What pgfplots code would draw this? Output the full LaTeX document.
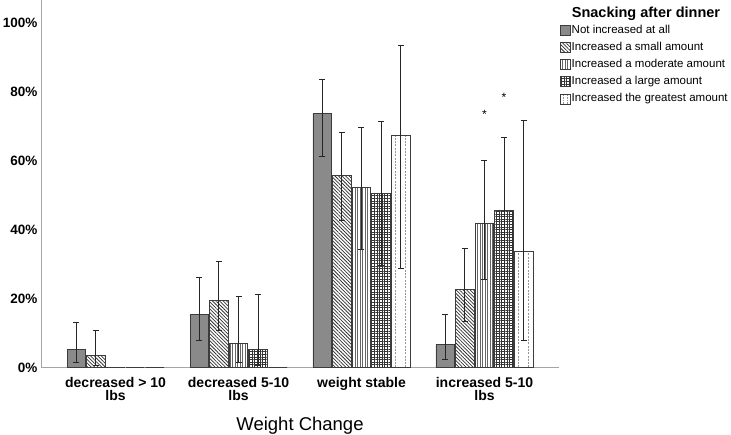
\documentclass[border=0pt]{standalone}
\usepackage{fontspec}
\setmainfont{Liberation Sans}
\usepackage{pgfplots}
\pgfplotsset{compat=1.18}
\usetikzlibrary{patterns.meta}

\definecolor{barfill}{RGB}{138,138,138}
\definecolor{barline}{RGB}{60,60,60}
\definecolor{axgray}{RGB}{165,165,165}
\definecolor{dotgray}{RGB}{150,150,150}

\pgfplotsset{
    errs/.style={
        error bars/y dir=both,
        error bars/y explicit,
        error bars/error bar style={line width=0.9pt, black!85},
        error bars/error mark options={rotate=90, line width=0.9pt, black!85, mark size=3pt},
    },
    dotline/.style={forget plot, ycomb, mark=none, draw=dotgray, line width=0.8pt,
        dash pattern=on 2pt off 1.3pt},
}

\begin{document}
\begin{tikzpicture}
\begin{axis}[
    name=ax,
    at={(0,0)}, anchor=south west,
    scale only axis,
    width=518pt, height=367.5pt,
    xmin=-0.606, xmax=3.606,
    ymin=0, ymax=106.5,
    axis lines=left,
    axis line style={-, draw=axgray, line width=0.9pt},
    major tick length=0pt,
    ybar=1pt, bar width=18.6pt,
    xtick={0,1,2,3},
    xticklabels={{decreased > 10\\lbs},{decreased 5-10\\lbs},{weight stable},{increased 5-10\\lbs}},
    xticklabel style={align=center, font=\bfseries\fontsize{14}{13.5}\selectfont, yshift=-6pt},
    ytick={0,20,40,60,80,100},
    yticklabels={0\%,20\%,40\%,60\%,80\%,100\%},
    yticklabel style={font=\bfseries\fontsize{13.5}{14}\selectfont, xshift=0pt},
    xlabel={Weight Change},
    xlabel style={font=\fontsize{18.5}{20}\selectfont, yshift=-9pt},
    legend style={at={(1,1)}, anchor=north west, xshift=1pt, yshift=-24pt,
        draw=none, fill=none, inner sep=0pt, row sep=4.5pt,
        font=\fontsize{11.5}{12}\selectfont,
        nodes={inner sep=0.8pt, text height=8.5pt, text depth=2.5pt},
        cells={anchor=west}},
    legend image code/.code={\draw[#1, line width=0.7pt] (0pt,-5pt) rectangle (10pt,5pt);},
]
\addplot[errs, bar shift=-39.2pt, fill=barfill, draw=barline, line width=0.8pt] coordinates {
    (0,5.3)  += (0,7.8)  -= (0,3.9)
    (1,15.4) += (0,10.8) -= (0,7.5)
    (2,73.6) += (0,10.0) -= (0,12.5)
    (3,6.8)  += (0,8.6)  -= (0,4.4)
};
\addlegendentry{Not increased at all}
\addplot[errs, bar shift=-19.6pt, draw=barline, line width=0.8pt,
    pattern={Lines[angle=-45, distance=2.5pt, line width=0.75pt]}, pattern color=black!80] coordinates {
    (0,3.5)  += (0,7.2)  -= (0,2.9)
    (1,19.3) += (0,11.4) -= (0,8.7)
    (2,55.6) += (0,12.5) -= (0,13.0)
    (3,22.7) += (0,11.9) -= (0,9.4)
};
\addlegendentry{Increased a small amount}
\addplot[errs, bar shift=0pt, draw=barline, line width=0.8pt,
    pattern={Lines[angle=90, distance=2.5pt, line width=0.7pt]}, pattern color=black!60] coordinates {
    (0,0)
    (1,7.0)  += (0,13.5) -= (0,5.6)
    (2,52.2) += (0,17.4) -= (0,17.9)
    (3,41.8) += (0,18.1) -= (0,16.4)
};
\addlegendentry{Increased a moderate amount}
\addplot[errs, bar shift=19.6pt, draw=barline, line width=0.8pt,
    pattern={Hatch[distance=2.6pt, line width=0.7pt]}, pattern color=black!80] coordinates {
    (0,0)
    (1,5.1)  += (0,16.1) -= (0,4.4)
    (2,50.5) += (0,20.9) -= (0,20.9)
    (3,45.4) += (0,21.4) -= (0,20.0)
};
\addlegendentry{Increased a large amount}
\addplot[errs, bar shift=39.2pt, forget plot, draw=barline, line width=0.8pt, fill=white] coordinates {
    (0,0)
    (1,0)
    (2,67.2) += (0,26.0) -= (0,38.4)
    (3,33.6) += (0,38.1) -= (0,25.8)
};
\addlegendimage{legend image code/.code={
    \filldraw[fill=white, draw=barline, line width=0.7pt] (0pt,-5pt) rectangle (10pt,5pt);
    \draw[dotgray, line width=0.8pt, dash pattern=on 1.5pt off 1pt] (3.3pt,-5pt) -- (3.3pt,5pt) (6.7pt,-5pt) -- (6.7pt,5pt);
}}
\addlegendentry{Increased the greatest amount}
% dotted fill lines inside the last bar of each group (bar centre +-5pt)
\addplot[dotline] coordinates {(2.278,67.0) (2.3594,67.0) (3.278,33.4) (3.3594,33.4)};
\node[font=\fontsize{12}{12}\selectfont] at (axis cs:3,73.3) {*};
\node[font=\fontsize{12}{12}\selectfont] at (axis cs:3.159,78.3) {*};
\end{axis}
\node[font=\bfseries\fontsize{14.5}{15}\selectfont] at ([xshift=87pt,yshift=-14pt]ax.north east) {Snacking after dinner};
\pgfresetboundingbox
\path (-41pt,-67.5pt) rectangle (690pt,367.5pt);
\end{tikzpicture}
\end{document}
